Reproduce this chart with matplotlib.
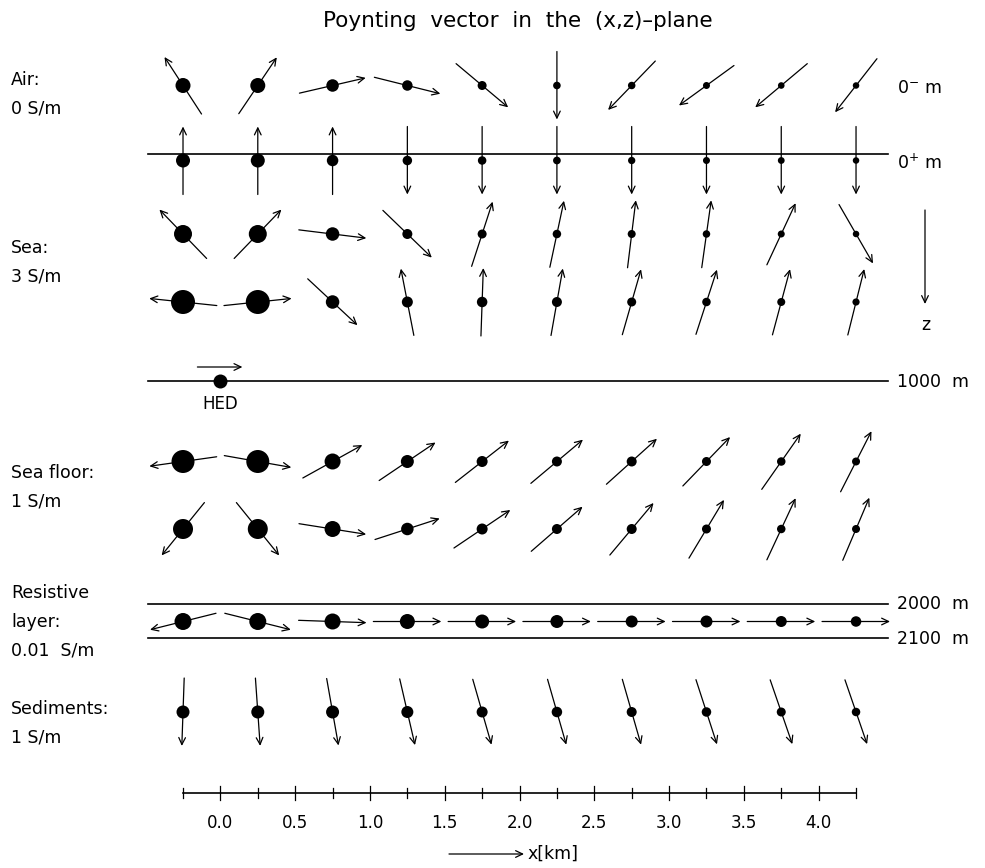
import numpy as np
import matplotlib
matplotlib.use("Agg")
import matplotlib.pyplot as plt

# horizontal offset from the HED of each column of vectors [km]
x_km = [-0.25, 0.25, 0.75, 1.25, 1.75, 2.25, 2.75, 3.25, 3.75, 4.25]

# direction of the Poynting vector, degrees from +x, positive towards the surface
angle_air = [123, 56, 13, -14, -40, -90, -134, -144, -140, -128]
angle_surface = [90, 90, 90, -90, -90, -90, -90, -90, -90, -90]
angle_sea1 = [134, 46, -7, -44, 72, 78, 83, 82, 65, -60]
angle_sea2 = [174, 6, -43, 101, 88, 80, 74, 72, 75, 76]
angle_floor1 = [-172, -10, 29, 34, 38, 40, 42, 46, 55, 63]
angle_floor2 = [-129, -51, -9, 18, 34, 41, 50, 59, 65, 67]
angle_resistive = [-166, -14, -2, 0, 0, 0, 0, 0, 0, 0]
angle_sediments = [-92, -86, -80, -77, -74, -74, -74, -72, -71, -71]

# relative magnitude (log scale), drawn as dot diameter
mag_air = [1.5, 1.5, 1.25, 1.05, 0.9, 0.76, 0.75, 0.7, 0.66, 0.65]
mag_surface = [1.4, 1.4, 1.15, 0.95, 0.85, 0.77, 0.73, 0.7, 0.68, 0.65]
mag_sea1 = [1.8, 1.8, 1.35, 1.0, 0.9, 0.85, 0.8, 0.75, 0.7, 0.65]
mag_sea2 = [2.4, 2.4, 1.35, 1.1, 1.05, 1.0, 0.9, 0.85, 0.8, 0.72]
mag_floor1 = [2.3, 2.3, 1.6, 1.3, 1.1, 1.0, 1.0, 0.9, 0.85, 0.8]
mag_floor2 = [2.0, 2.0, 1.6, 1.25, 1.1, 1.0, 1.0, 0.9, 0.85, 0.8]
mag_resistive = [1.7, 1.7, 1.6, 1.5, 1.4, 1.3, 1.2, 1.2, 1.1, 1.05]
mag_sediments = [1.3, 1.3, 1.3, 1.2, 1.1, 1.05, 1.0, 0.95, 0.9, 0.85]

# layer labels and interface depths
layer_labels = ["Air:\n0 S/m", "Sea:\n3 S/m", "Sea floor:\n1 S/m",
                "Resistive\nlayer:\n0.01  S/m", "Sediments:\n1 S/m"]
interface_labels = ["0$^{+}$ m", "1000  m", "2000  m", "2100  m"]
x_ticks_major = [0.0, 0.5, 1.0, 1.5, 2.0, 2.5, 3.0, 3.5, 4.0]
x_ticks_minor = [-0.25, 0.25, 0.75, 1.25, 1.75, 2.25, 2.75, 3.25, 3.75, 4.25]
hed_x = 0.0

# page layout (vertical positions in pixels from the top)
W, H = 985, 868
PX_PER_KM = 149.56
X0_PX = 220.4
row_y = [85.5, 160.5, 234, 302, 461.5, 529, 621.5, 712]
line_y = [154, 381, 603.5, 638]
label_y = [94, 262, 487, 622, 723]
axis_y = 793
HALF = 34  # half length of each vector [px]

rows = [
    (angle_air, mag_air), (angle_surface, mag_surface),
    (angle_sea1, mag_sea1), (angle_sea2, mag_sea2),
    (angle_floor1, mag_floor1), (angle_floor2, mag_floor2),
    (angle_resistive, mag_resistive), (angle_sediments, mag_sediments),
]

plt.rcParams['font.family'] = ['DejaVu Sans']
fig = plt.figure(figsize=(W / 100, H / 100), dpi=100)
ax = fig.add_axes([0, 0, 1, 1])
ax.set_xlim(-X0_PX / PX_PER_KM, (W - X0_PX) / PX_PER_KM)
ax.set_ylim(H, 0)
ax.axis('off')

kx = 1.0 / PX_PER_KM


def vector(x, y, ang, lw=0.9):
    a = np.deg2rad(ang)
    dx, dy = HALF * np.cos(a) * kx, -HALF * np.sin(a)
    ax.annotate('', xy=(x + dx, y + dy), xytext=(x - dx, y - dy),
                arrowprops=dict(arrowstyle='->,head_length=0.5,head_width=0.24',
                                lw=lw, color='black', shrinkA=0, shrinkB=0))


for (angles, mags), y in zip(rows, row_y):
    for x, ang in zip(x_km, angles):
        vector(x, y, ang)
    ax.scatter(x_km, [y] * len(x_km), s=(np.array(mags) * 10 * 0.72) ** 2,
               color='black', zorder=3, linewidths=0)

# interfaces
x_left = (148 - X0_PX) / PX_PER_KM
x_right = (888 - X0_PX) / PX_PER_KM
for y in line_y:
    ax.plot([x_left, x_right], [y, y], color='black', lw=1.2)

# interface labels on the right
lx = (897 - X0_PX) / PX_PER_KM
ax.text(lx, 88, "0$^{-}$ m", fontsize=12.5, va='center', ha='left')
for y, t in zip([163, 382, 604, 639], interface_labels):
    ax.text(lx, y, t, fontsize=12.5, va='center', ha='left')

# z direction
zx = (925 - X0_PX) / PX_PER_KM
ax.annotate('', xy=(zx, 304), xytext=(zx, 210),
            arrowprops=dict(arrowstyle='->,head_length=0.5,head_width=0.24',
                            lw=0.9, color='black', shrinkA=0, shrinkB=0))
ax.text(zx + 1 * kx, 325, "z", fontsize=12.5, ha='center', va='center')

# source
ax.scatter([hed_x], [381], s=(14 * 0.72) ** 2, color='black', zorder=3, linewidths=0)
ax.annotate('', xy=(hed_x + 22 * kx, 367), xytext=(hed_x - 23 * kx, 367),
            arrowprops=dict(arrowstyle='->,head_length=0.5,head_width=0.24',
                            lw=0.9, color='black', shrinkA=0, shrinkB=0))
ax.text(hed_x, 404, "HED", fontsize=12, ha='center', va='center')

# layer labels
tx = (11 - X0_PX) / PX_PER_KM
for y, t in zip(label_y, layer_labels):
    ax.text(tx, y, t, fontsize=12.5, ha='left', va='center', linespacing=1.75)

# distance axis
ax.plot([x_ticks_minor[0], x_ticks_minor[-1]], [axis_y, axis_y], color='black', lw=1.2)
for t in x_ticks_minor:
    ax.plot([t, t], [axis_y - 5, axis_y + 5], color='black', lw=0.9)
for t in x_ticks_major:
    ax.plot([t, t], [axis_y - 7, axis_y + 7], color='black', lw=0.9)
    ax.text(t, 823, f"{t:.1f}", fontsize=12, ha='center', va='center')

ax.annotate('', xy=((524 - X0_PX) / PX_PER_KM, 854), xytext=((449 - X0_PX) / PX_PER_KM, 854),
            arrowprops=dict(arrowstyle='->,head_length=0.5,head_width=0.24',
                            lw=0.9, color='black', shrinkA=0, shrinkB=0))
ax.text((528 - X0_PX) / PX_PER_KM, 854, "x[km]", fontsize=12.5, ha='left', va='center')

ax.text((518 - X0_PX) / PX_PER_KM, 21, "Poynting  vector  in  the  (x,z)\u2013plane",
        fontsize=15.5, ha='center', va='center')

fig.savefig("out.png", dpi=100)
